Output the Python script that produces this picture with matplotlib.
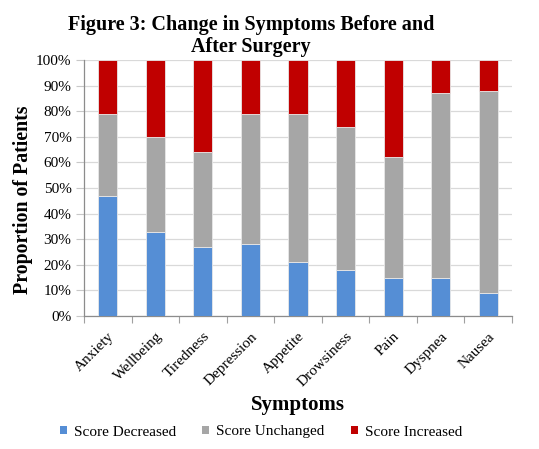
import matplotlib
matplotlib.use("Agg")
import matplotlib.pyplot as plt
import numpy as np
from matplotlib.ticker import PercentFormatter, FixedLocator

plt.rcParams['font.family'] = ['Liberation Serif', 'DejaVu Serif']

symptoms = ["Anxiety", "Wellbeing", "Tiredness", "Depression", "Appetite",
            "Drowsiness", "Pain", "Dyspnea", "Nausea"]
decreased = [47, 33, 27, 28, 21, 18, 15, 15, 9]
unchanged = [32, 37, 37, 51, 58, 56, 47, 72, 79]
increased = [21, 30, 36, 21, 21, 26, 38, 13, 12]

series = [("Score Decreased", decreased, "#558ED5"),
          ("Score Unchanged", unchanged, "#A6A6A6"),
          ("Score Increased", increased, "#C00000")]

fig = plt.figure(figsize=(5.39, 4.49), dpi=100)
ax = fig.add_axes([84/539, 1 - 316/449, (512 - 84)/539, (316 - 60)/449])

x = np.arange(len(symptoms))
bottom = np.zeros(len(symptoms))
for name, vals, color in series:
    ax.bar(x, vals, width=0.4, bottom=bottom, color=color, label=name,
           edgecolor="#E8E8E8", linewidth=0.6, zorder=3)
    bottom += np.array(vals)

ax.set_xlim(-0.5, len(symptoms) - 0.5)
ax.set_ylim(0, 100)
ax.yaxis.set_major_locator(FixedLocator(np.arange(0, 101, 10)))
ax.yaxis.set_major_formatter(PercentFormatter(decimals=0))
ax.grid(axis="y", color="#D9D9D9", linewidth=0.9, zorder=0)

ax.set_xticks(x)
ax.set_xticklabels(symptoms, rotation=45, ha="right", rotation_mode="anchor",
                   fontsize=11)
ax.tick_params(axis="x", length=0, pad=10)
ax.set_xticks(np.arange(-0.5, len(symptoms)), minor=True)
ax.tick_params(axis="x", which="minor", length=5, color="#A0A0A0", width=0.8)
ax.tick_params(axis="y", length=5.5, color="#C8C8C8", labelsize=11, pad=3.5)

for side in ("top", "right"):
    ax.spines[side].set_visible(False)
for side in ("left", "bottom"):
    ax.spines[side].set_color("#8C8C8C")
    ax.spines[side].set_linewidth(0.9)

fig.text(23/539, 1 - 200/449, "Proportion of Patients", fontsize=14.3,
         fontweight="bold", rotation=90, ha="center", va="center")
fig.text(298/539, 1 - 405/449, "Symptoms", fontsize=15, fontweight="bold",
         ha="center", va="center")
fig.text(251/539, 1 - 36/449, "Figure 3: Change in Symptoms Before and\nAfter Surgery",
         fontsize=14.5, fontweight="bold", ha="center", va="center",
         linespacing=1.15)

leg = fig.legend(loc="center", bbox_to_anchor=(261/539, 1 - 432/449), ncol=3,
                 frameon=False, fontsize=11, handlelength=0.45, handleheight=0.45,
                 handletextpad=0.45, columnspacing=1.75)
for h in leg.legend_handles:
    h.set_edgecolor("none")

fig.savefig("out.png", dpi=100)
